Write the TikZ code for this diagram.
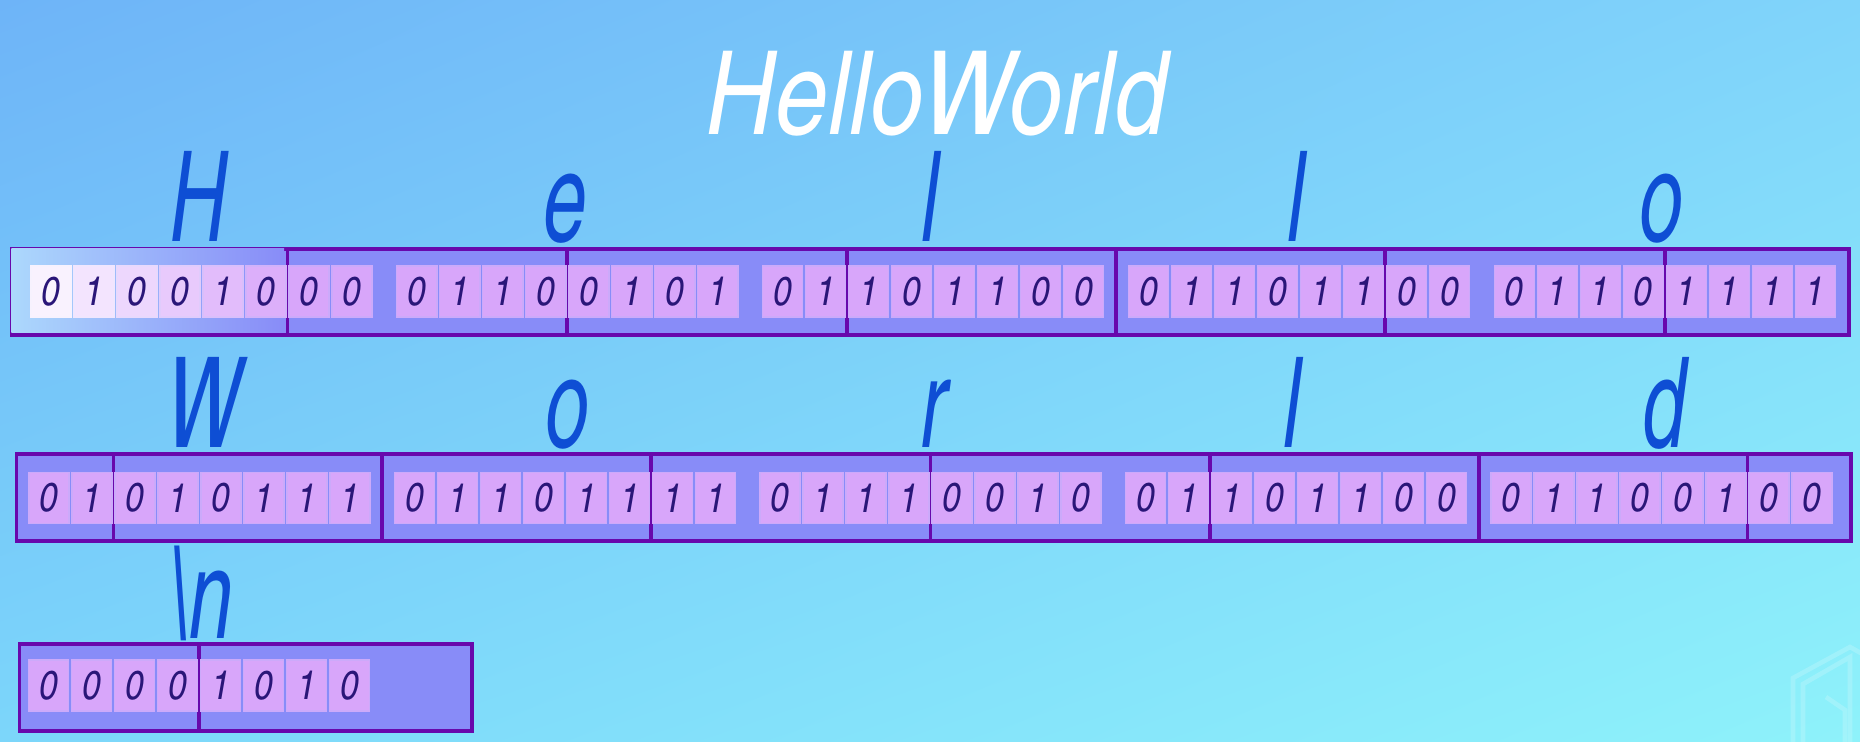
\documentclass[tikz,border=0pt]{standalone}
\usepackage{fontspec}
\usepackage{xcolor}
\usepackage{graphicx}
\setmainfont{TeX Gyre Heros Cn}
\usetikzlibrary{positioning, calc, shadings}
\definecolor{bgTopLeft}{RGB}{110,180,248}
\definecolor{bgTopRight}{RGB}{128,212,250}
\definecolor{bgBotLeft}{RGB}{124,214,250}
\definecolor{bgBotRight}{RGB}{142,242,250}
\definecolor{rowFill}{RGB}{136,140,248}
\definecolor{rowEdge}{RGB}{104,8,172}
\definecolor{glowBlue}{RGB}{172,216,252}
\definecolor{cellPink}{RGB}{216,166,250}
\definecolor{cellEdge}{RGB}{204,170,250}
\definecolor{bitInk}{RGB}{42,22,120}
\definecolor{charBlue}{RGB}{14,78,212}
\newcommand{\slimchar}[1]{\scalebox{0.76}[1]{#1}}
\tikzset{
    rowbox/.style={
        rectangle,
        draw=rowEdge,
        line width=1.1pt,
        fill=rowFill,
        anchor=north west,
        inner sep=0pt
    },
    bitcell/.style={
        rectangle,
        draw=cellEdge,
        line width=0.4pt,
        fill=cellPink,
        minimum width=0.40cm,
        minimum height=0.51cm,
        inner sep=0pt,
        text=bitInk,
        font=\fontsize{11.5}{12}\selectfont\itshape
    },
    divline/.style={draw=rowEdge, line width=1.1pt},
    charlabel/.style={anchor=base, inner sep=0pt, text=charBlue, font=\fontsize{35.7}{36}\selectfont\itshape},
    titlelabel/.style={anchor=base, inner sep=0pt, text=white, font=\fontsize{33}{34}\selectfont\itshape},
    watermark/.style={draw=white, line width=1.3pt, opacity=0.18}
}

\begin{document}
\begin{tikzpicture}[x=0.01cm, y=-0.01cm]
    \useasboundingbox (0,0) rectangle (1860,741);
    \shade[upper left=bgTopLeft, upper right=bgTopRight, lower left=bgBotLeft, lower right=bgBotRight] (0,0) rectangle (1860,741);
    \node[titlelabel] (title) at (937,134) {HelloWorld};
    % Hello
    \node[rowbox, minimum width=18.365cm, minimum height=0.86cm] (rowA) at (9.5,247) {};
    \shade[left color=glowBlue, right color=rowFill] ([shift={(0.5pt,-0.5pt)}]rowA.north west) rectangle (284,332);
    \foreach \k in {6,12,18,24,30,36} {
        \pgfmathsetmacro\dx{(31 + int(\k/8)*365.8 + mod(\k,8)*43 + 31 + int((\k-1)/8)*365.8 + mod(\k-1,8)*43 + 40)/2}
        \draw[divline] (\dx,0 |- rowA.north) -- (\dx,0 |- rowA.south);
    }
    \foreach \bit [count=\n from 0] in {0,1,0,0,1,0,0,0, 0,1,1,0,0,1,0,1, 0,1,1,0,1,1,0,0, 0,1,1,0,1,1,0,0, 0,1,1,0,1,1,1,1} {
        \pgfmathsetmacro\cx{31 + int(\n/8)*365.8 + mod(\n,8)*43 + 20}
        \pgfmathtruncatemacro\w{max(0, 85-15*\n)}
        \node[bitcell, fill=white!\w!cellPink, draw=white!\w!cellEdge] (bitA\n) at (\cx,291.5) {\bit};
    }
    \foreach \c/\cx [count=\n] in {H/199, e/565, l/930, l/1296, o/1661} {
        \node[charlabel] (charA\n) at (\cx,241) {\slimchar{\c}};
    }
    % World
    \node[rowbox, minimum width=18.335cm, minimum height=0.87cm] (rowB) at (14.5,452) {};
    \foreach \k in {2,8,14,20,26,32,38} {
        \pgfmathsetmacro\dx{(29 + int(\k/8)*365.5 + mod(\k,8)*43 + 29 + int((\k-1)/8)*365.5 + mod(\k-1,8)*43 + 40)/2}
        \draw[divline] (\dx,0 |- rowB.north) -- (\dx,0 |- rowB.south);
    }
    \foreach \bit [count=\n from 0] in {0,1,0,1,0,1,1,1, 0,1,1,0,1,1,1,1, 0,1,1,1,0,0,1,0, 0,1,1,0,1,1,0,0, 0,1,1,0,0,1,0,0} {
        \pgfmathsetmacro\cx{29 + int(\n/8)*365.5 + mod(\n,8)*43 + 20}
        \node[bitcell] (bitB\n) at (\cx,498) {\bit};
    }
    \foreach \c/\cx [count=\n] in {W/204, o/567, r/934, l/1292, d/1664} {
        \node[charlabel] (charB\n) at (\cx,447) {\slimchar{\c}};
    }
    % newline
    \node[rowbox, minimum width=4.52cm, minimum height=0.87cm] (rowC) at (17.5,642) {};
    \pgfmathsetmacro\dx{(28.5 + 4*43 + 28.5 + 3*43 + 40)/2}
    \draw[divline] (\dx,0 |- rowC.north) -- (\dx,0 |- rowC.south);
    \foreach \bit [count=\n from 0] in {0,0,0,0,1,0,1,0} {
        \pgfmathsetmacro\cx{28.5 + \n*43 + 20}
        \node[bitcell] (bitC\n) at (\cx,685.5) {\bit};
    }
    \node[charlabel] (charC1) at (200,638) {\slimchar{\textbackslash n}};
    % logo
    \begin{scope}
        \clip (0,0) rectangle (1860,741);
        \draw[watermark] (1793,745) -- (1793,678) -- (1850,647) -- (1866,656);
        \draw[watermark] (1803,745) -- (1803,684) -- (1850,657) -- (1850,745);
        \draw[watermark] (1826,697) -- (1845,710) -- (1845,745);
    \end{scope}
\end{tikzpicture}
\end{document}
